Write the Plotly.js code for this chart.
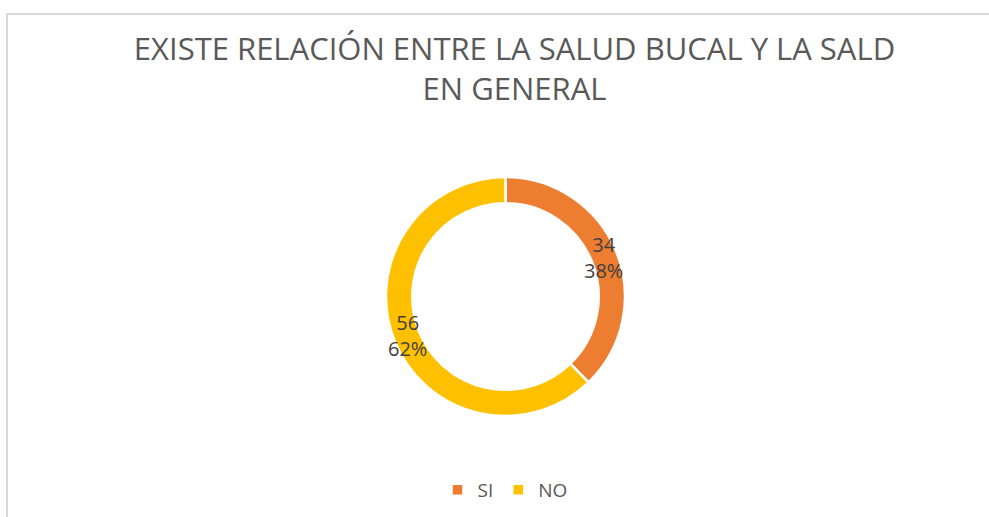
<!DOCTYPE html>
<html>
<head>
<meta charset="utf-8">
<script src="https://cdn.plot.ly/plotly-3.0.1.min.js"></script>
<style>
  html, body { margin: 0; padding: 0; background: #fff; }
  #wrap { position: relative; width: 989px; height: 517px; overflow: hidden; }
  #chart { position: absolute; left: 0; top: 0; width: 989px; height: 517px; }
  #frame { position: absolute; left: 6px; top: 13px; width: 1000px; height: 600px;
           border-left: 2px solid #d9d9d9; border-top: 2px solid #d9d9d9; pointer-events: none; }
</style>
</head>
<body>
<div id="wrap"><div id="chart"></div><div id="frame"></div></div>
<script>
const categories = ["SI", "NO"];
const counts = [34, 56];
const colors = ["#ED7D31", "#FFC000"];
const chartTitle = "EXISTE RELACIÓN ENTRE LA SALUD BUCAL Y LA SALD<br>EN GENERAL";

const W = 989, H = 517;
const cx = 505.5, cy = 296.5, R = 119.5, hole = 0.78;

const total = counts.reduce((a, b) => a + b, 0);
const pcts = counts.map(v => Math.round(v / total * 100));

// label positions: mid-angle of each slice, middle of the ring (clockwise from 12 o'clock)
const annotations = [];
let acc = 0;
const rMid = R * (1 + hole) / 2 - 1;
counts.forEach((v, i) => {
  const mid = (acc + v / 2) / total * 2 * Math.PI;
  acc += v;
  const px = cx + rMid * Math.sin(mid);
  const py = cy - rMid * Math.cos(mid);
  annotations.push({
    xref: "paper", yref: "paper",
    x: px / W, y: 1 - py / H,
    xanchor: "center", yanchor: "middle",
    text: v + "<br>" + pcts[i] + "%",
    showarrow: false,
    font: { family: "Open Sans, sans-serif", size: 20, color: "#404040" }
  });
});

const trace = {
  type: "pie",
  labels: categories,
  values: counts,
  hole: hole,
  sort: false,
  direction: "clockwise",
  rotation: 0,
  textinfo: "none",
  marker: { colors: colors, line: { color: "#ffffff", width: 2.5 } },
  domain: { x: [(cx - R) / W, (cx + R) / W], y: [1 - (cy + R) / H, 1 - (cy - R) / H] },
  hoverinfo: "label+value+percent"
};

const layout = {
  width: W, height: H,
  margin: { l: 0, r: 0, t: 0, b: 0 },
  paper_bgcolor: "#ffffff",
  title: {
    text: chartTitle,
    x: 514.5 / W, xanchor: "center", xref: "paper",
    y: 1 - 60 / H, yanchor: "top", yref: "paper",
    font: { family: "Open Sans, sans-serif", size: 31, color: "#595959" }
  },
  showlegend: true,
  legend: {
    orientation: "h",
    x: 505 / W, xanchor: "center",
    y: 1 - 490 / H, yanchor: "middle",
    font: { family: "Open Sans, sans-serif", size: 19, color: "#595959" },
    itemwidth: 30
  },
  annotations: annotations
};

Plotly.newPlot("chart", [trace], layout, { displayModeBar: false, staticPlot: true });
</script>
</body>
</html>
